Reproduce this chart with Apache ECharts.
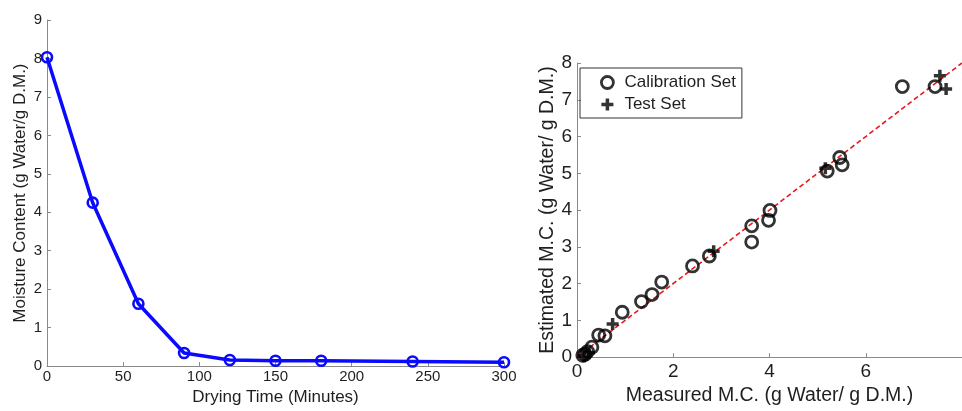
<!DOCTYPE html>
<html>
<head>
<meta charset="utf-8">
<script src="https://cdn.jsdelivr.net/npm/echarts@6/dist/echarts.min.js"></script>
<style>
  html, body { margin: 0; padding: 0; background: #fff; }
  #chart { width: 962px; height: 411px; }
</style>
</head>
<body>
<div id="chart"></div>
<script>
// drying curve (left)
const dryTime = [0, 30, 60, 90, 120, 150, 180, 240, 300]
const moisture = [8.03, 4.25, 1.62, 0.34, 0.16, 0.14, 0.14, 0.12, 0.10]

// measured vs estimated (right)
const calX = [6.76, 7.44, 5.20, 5.46, 5.51, 4.01, 3.98, 3.63, 3.63, 2.75, 2.40, 1.76, 1.56, 1.34, 0.94,
  0.58, 0.45, 0.31, 0.22, 0.17, 0.12]
const calY = [7.36, 7.36, 5.06, 5.43, 5.23, 3.99, 3.72, 3.57, 3.13, 2.75, 2.48, 2.04, 1.70, 1.51, 1.22,
  0.58, 0.60, 0.27, 0.15, 0.08, 0.05]
const testX = [7.54, 7.67, 5.16, 2.84, 0.74, 0.15, 0.25]
const testY = [7.65, 7.29, 5.14, 2.88, 0.90, 0.02, 0.12]
const refLine = [0, 8]

const txt = '#1f1f1f'
const axisGrey = '#8a8a8a'
const font = 'Liberation Sans, Arial, sans-serif'
const plusPath = 'path://M4.25,0H7.75V4.25H12V7.75H7.75V12H4.25V7.75H0V4.25H4.25Z'

function axisBase(size, margin) {
  return {
    axisLine: { show: true, onZero: false, lineStyle: { color: axisGrey, width: 1 } },
    axisTick: { show: true, inside: true, length: 4, lineStyle: { color: axisGrey } },
    splitLine: { show: false },
    axisLabel: { color: txt, fontSize: size, fontFamily: font, margin: margin },
    nameLocation: 'middle',
  }
}

const chart = echarts.init(document.getElementById('chart'))
const option = {
  animation: false,
  backgroundColor: '#fff',
  grid: [
    { left: 47, top: 20, width: 457, height: 347 },
    { left: 577, top: 63, width: 390, height: 300 },
  ],
  legend: {
    left: 580,
    top: 68,
    orient: 'vertical',
    borderColor: '#333',
    borderWidth: 1,
    padding: [6, 6, 5, 20],
    itemWidth: 12,
    itemHeight: 12,
    itemGap: 5,
    textStyle: { color: txt, fontSize: 17, fontFamily: font, lineHeight: 17, padding: [0, 0, 0, 6] },
    data: [
      { name: 'Calibration Set', icon: 'circle', itemStyle: { color: '#fff', borderColor: '#000', borderWidth: 2.8 } },
      { name: 'Test Set', icon: plusPath, itemStyle: { color: '#000', borderWidth: 0 } },
    ],
  },
  xAxis: [
    Object.assign(axisBase(15, 3), {
      gridIndex: 0, type: 'value', min: 0, max: 300, interval: 50,
      name: 'Drying Time (Minutes)', nameGap: 21,
      nameTextStyle: { color: txt, fontFamily: font, fontSize: 17 },
    }),
    Object.assign(axisBase(19, 5), {
      gridIndex: 1, type: 'value', min: 0, max: 8, interval: 2,
      name: 'Measured M.C. (g Water/ g D.M.)', nameGap: 24,
      nameTextStyle: { color: txt, fontFamily: font, fontSize: 19.5 },
    }),
  ],
  yAxis: [
    Object.assign(axisBase(15, 5), {
      gridIndex: 0, type: 'value', min: 0, max: 9, interval: 1,
      name: 'Moisture Content (g Water/g D.M.)', nameGap: 18,
      nameTextStyle: { color: txt, fontFamily: font, fontSize: 17 },
    }),
    Object.assign(axisBase(19, 5), {
      gridIndex: 1, type: 'value', min: 0, max: 8, interval: 1,
      name: 'Estimated M.C. (g Water/ g D.M.)', nameGap: 19,
      nameTextStyle: { color: txt, fontFamily: font, fontSize: 19.5 },
    }),
  ],
  series: [
    {
      type: 'line',
      xAxisIndex: 0,
      yAxisIndex: 0,
      data: dryTime.map((t, i) => [t, moisture[i]]),
      symbol: 'circle',
      symbolSize: 10,
      lineStyle: { color: '#0a0aff', width: 3.5 },
      itemStyle: { color: 'rgba(0,0,0,0)', borderColor: '#0a0aff', borderWidth: 2.6 },
      z: 3,
    },
    {
      type: 'line',
      xAxisIndex: 1,
      yAxisIndex: 1,
      data: refLine.map(v => [v, v]),
      symbol: 'none',
      lineStyle: { color: '#e8191e', width: 1.6, type: [5, 3] },
      z: 2,
    },
    {
      name: 'Calibration Set',
      type: 'scatter',
      xAxisIndex: 1,
      yAxisIndex: 1,
      data: calX.map((x, i) => [x, calY[i]]),
      symbol: 'circle',
      symbolSize: 12,
      itemStyle: { color: 'rgba(0,0,0,0)', borderColor: '#000', borderWidth: 2.8 },
      z: 4,
    },
    {
      name: 'Test Set',
      type: 'scatter',
      xAxisIndex: 1,
      yAxisIndex: 1,
      data: testX.map((x, i) => [x, testY[i]]),
      symbol: plusPath,
      symbolSize: 12,
      itemStyle: { color: '#000' },
      z: 4,
    },
  ],
}
option.xAxis[1].axisLabel.showMaxLabel = false
chart.setOption(option)
</script>
</body>
</html>
